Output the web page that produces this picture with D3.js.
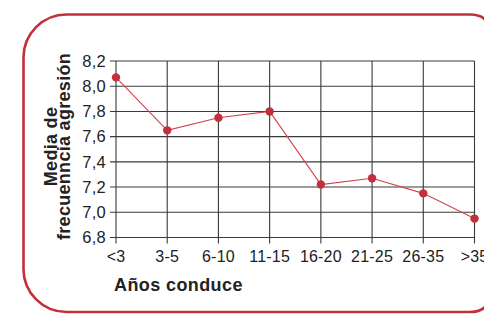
<!DOCTYPE html>
<html>
<head>
<meta charset="utf-8">
<script src="https://cdn.jsdelivr.net/npm/d3@7"></script>
<style>
  html, body { margin: 0; padding: 0; background: #fff; }
  svg { display: block; font-family: 'Liberation Sans', Arial, Helvetica, sans-serif; }
</style>
</head>
<body>
<div id="chart"></div>
<script>
const categories = ['<3', '3-5', '6-10', '11-15', '16-20', '21-25', '26-35', '>35'];
const values = [8.07, 7.65, 7.75, 7.8, 7.22, 7.27, 7.15, 6.95];
const yTicks = [6.8, 7.0, 7.2, 7.4, 7.6, 7.8, 8.0, 8.2];
const yTitle = ['Media de', 'frecuenncia agresión'];
const xTitle = 'Años conduce';

const width = 484;
const height = 315;
const Red = '#c1303b';
const LineRed = '#d2434d';
const Grid = '#3a3a3a';

const svg = d3
  .select('#chart')
  .append('svg')
  .attr('width', width)
  .attr('height', height)
  .attr('viewBox', '0 0 ' + width + ' ' + height);

// rounded frame (big radius on the left, small on the right, cut by the edge)
const fx0 = 23.5, fy0 = 14.5, fx1 = 490, fy1 = 312;
const rl = 43, rr = 20;
svg
  .append('path')
  .attr(
    'd',
    `M${fx0 + rl},${fy0} L${fx1 - rr},${fy0} Q${fx1},${fy0} ${fx1},${fy0 + rr}
     L${fx1},${fy1 - rr} Q${fx1},${fy1} ${fx1 - rr},${fy1}
     L${fx0 + rl},${fy1} A${rl},${rl} 0 0 1 ${fx0},${fy1 - rl}
     L${fx0},${fy0 + rl} A${rl},${rl} 0 0 1 ${fx0 + rl},${fy0} Z`
  )
  .attr('fill', 'none')
  .attr('stroke', Red)
  .attr('stroke-width', 2.6);

const x = d3.scalePoint().domain(categories).range([116, 474.5]);
const y = d3.scaleLinear().domain([6.8, 8.2]).range([237.5, 61]);

const plot = svg.append('g');

// horizontal grid + y ticks
plot
  .selectAll('.hgrid')
  .data(yTicks)
  .join('line')
  .attr('class', 'hgrid')
  .attr('x1', x.range()[0] - 6)
  .attr('x2', x.range()[1])
  .attr('y1', (d) => y(d))
  .attr('y2', (d) => y(d))
  .attr('stroke', Grid)
  .attr('stroke-width', 1.1);

// vertical grid + x ticks
plot
  .selectAll('.vgrid')
  .data(categories)
  .join('line')
  .attr('class', 'vgrid')
  .attr('x1', (d) => x(d))
  .attr('x2', (d) => x(d))
  .attr('y1', y(8.2))
  .attr('y2', y(6.8) + 6)
  .attr('stroke', Grid)
  .attr('stroke-width', 1.1);

// y tick labels
plot
  .selectAll('.ylab')
  .data(yTicks)
  .join('text')
  .attr('class', 'ylab')
  .attr('x', 106)
  .attr('y', (d) => y(d))
  .attr('dy', '0.35em')
  .attr('text-anchor', 'end')
  .attr('font-size', 16.5)
  .attr('letter-spacing', 0.3)
  .attr('fill', '#222')
  .text((d) => d3.format('.1f')(d).replace('.', ','));

// x tick labels
plot
  .selectAll('.xlab')
  .data(categories)
  .join('text')
  .attr('class', 'xlab')
  .attr('x', (d) => x(d))
  .attr('y', 262)
  .attr('text-anchor', 'middle')
  .attr('font-size', 16)
  .attr('letter-spacing', 0.2)
  .attr('fill', '#222')
  .text((d) => d);

// series line
const line = d3
  .line()
  .x((d, i) => x(categories[i]))
  .y((d) => y(d));

plot
  .append('path')
  .datum(values)
  .attr('d', line)
  .attr('fill', 'none')
  .attr('stroke', LineRed)
  .attr('stroke-width', 1.1);

plot
  .selectAll('.dot')
  .data(values)
  .join('circle')
  .attr('class', 'dot')
  .attr('cx', (d, i) => x(categories[i]))
  .attr('cy', (d) => y(d))
  .attr('r', 4.2)
  .attr('fill', Red);

// axis titles
svg
  .append('text')
  .attr('x', 114)
  .attr('y', 291)
  .attr('font-size', 18)
  .attr('letter-spacing', 0.4)
  .attr('font-weight', 'bold')
  .attr('fill', '#222')
  .text(xTitle);

const yt = svg
  .append('text')
  .attr('transform', 'translate(0,146.5) rotate(-90)')
  .attr('text-anchor', 'middle')
  .attr('font-size', 18)
  .attr('letter-spacing', 0.3)
  .attr('font-weight', 'bold')
  .attr('fill', '#222');

yt.selectAll('tspan')
  .data(yTitle)
  .join('tspan')
  .attr('x', 0)
  .attr('y', (d, i) => 56.5 + i * 13.5)
  .text((d) => d);
</script>
</body>
</html>
